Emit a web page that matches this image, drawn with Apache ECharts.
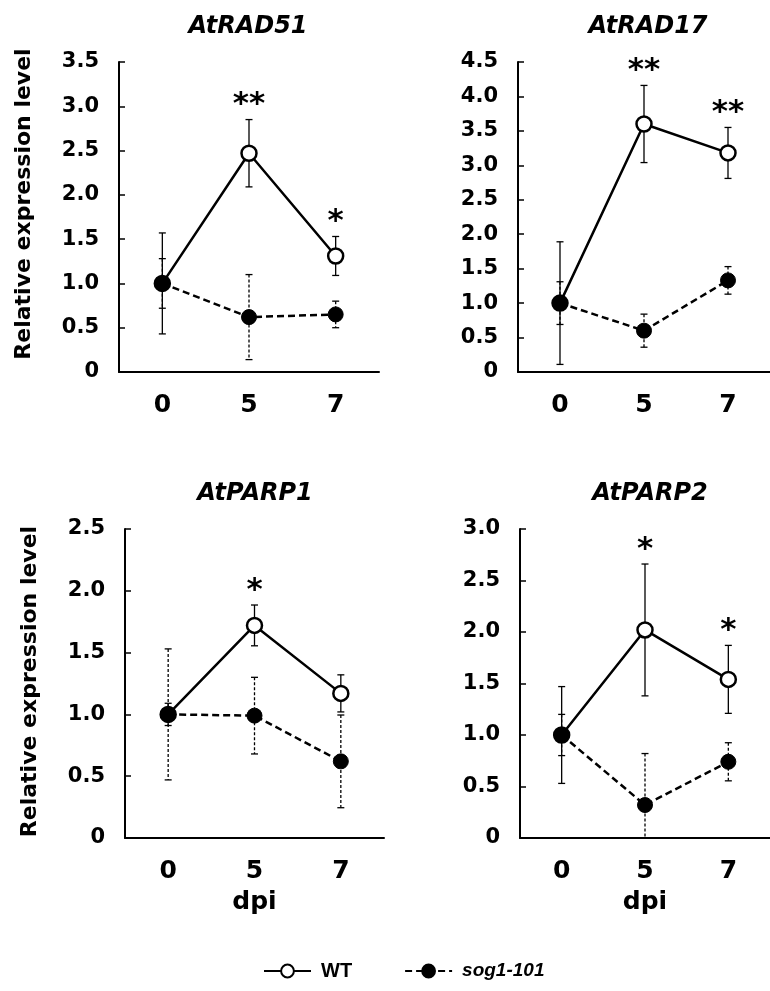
<!DOCTYPE html>
<html lang="en">
<head>
<meta charset="UTF-8">
<title>Relative expression</title>
<script src="https://cdn.jsdelivr.net/npm/echarts@6/dist/echarts.min.js"></script>
<style>
  html, body { margin: 0; padding: 0; background: #fff; }
  #container { width: 770px; height: 991px; }
</style>
</head>
<body>
<div id="container"></div>
<script type="text/javascript">
// days post inoculation
var categories = ['0', '5', '7'];
var genes = ['AtRAD51', 'AtRAD17', 'AtPARP1', 'AtPARP2'];
var yMax = [3.5, 4.5, 2.5, 3.0];

// means and error (+/-)
var wtMean = [[1, 2.47, 1.31], [1, 3.60, 3.18], [1, 1.72, 1.17], [1, 2.02, 1.54]];
var wtErr = [[0.57, 0.38, 0.22], [0.89, 0.56, 0.37], [0.09, 0.165, 0.15], [0.47, 0.64, 0.33]];
var sogMean = [[1, 0.62, 0.65], [1, 0.60, 1.33], [1, 0.99, 0.62], [1, 0.32, 0.74]];
var sogErr = [[0.28, 0.48, 0.15], [0.31, 0.24, 0.20], [0.53, 0.31, 0.375], [0.20, 0.50, 0.185]];
var stars = [['', '**', '*'], ['', '**', '**'], ['', '*', ''], ['', '*', '*']];

var FONT = 'DejaVu Sans';
var grids = [
  { left: 119, top: 62, width: 260, height: 310 },
  { left: 518, top: 62, width: 259, height: 310 },
  { left: 125, top: 529, width: 259, height: 309 },
  { left: 520, top: 529, width: 259, height: 309 }
];
var titleX = [243, 643, 250, 645];
var namePad = [26, 0, 4, 0];

function errRender(dashed) {
  return function (params, api) {
    var i = api.value(0), m = api.value(1), e = api.value(2);
    var lo = Math.max(0, m - e);
    var top = api.coord([i, m + e]);
    var bot = api.coord([i, lo]);
    var hw = 3.5;
    var style = { stroke: '#000', lineWidth: 1.3, lineDash: dashed ? [3, 2] : null };
    var cap = { stroke: '#000', lineWidth: 1.3 };
    var kids = [
      { type: 'line', shape: { x1: top[0], y1: top[1], x2: bot[0], y2: bot[1] }, style: style },
      { type: 'line', shape: { x1: top[0] - hw, y1: top[1], x2: top[0] + hw, y2: top[1] }, style: cap }
    ];
    if (lo > 0) {
      kids.push({ type: 'line', shape: { x1: bot[0] - hw, y1: bot[1], x2: bot[0] + hw, y2: bot[1] }, style: cap });
    }
    return { type: 'group', children: kids };
  };
}

var option = {
  animation: false,
  backgroundColor: '#fff',
  textStyle: { fontFamily: FONT },
  title: [],
  grid: grids,
  xAxis: [],
  yAxis: [],
  legend: {
    left: 263, top: 961, padding: 0,
    itemWidth: 47, itemHeight: 16, itemGap: 52,
    data: ['WT', 'sog1-101'],
    textStyle: { fontFamily: 'Liberation Sans', fontSize: 20, fontWeight: 'bold', color: '#000', padding: [0, 0, 0, 5],
      rich: { it: { fontFamily: 'Liberation Sans', fontSize: 19, fontWeight: 'bold', fontStyle: 'italic', color: '#000' } } },
    formatter: function (n) { return n === 'WT' ? n : '{it|' + n + '}'; }
  },
  series: []
};

for (var k = 0; k < 4; k++) {
  var g = grids[k];
  option.title.push({
    text: genes[k],
    left: titleX[k], top: g.top - 52, textAlign: 'center',
    textStyle: { fontFamily: FONT, fontSize: 24, fontWeight: 'bold', fontStyle: 'italic', color: '#000' }
  });
  option.xAxis.push({
    type: 'category', gridIndex: k, data: categories,
    name: k >= 2 ? 'dpi' : '', nameLocation: 'middle', nameGap: 52,
    nameTextStyle: { fontFamily: FONT, fontSize: 25, fontWeight: 'bold', color: '#000' },
    axisLine: { lineStyle: { color: '#000', width: 2 } },
    axisTick: { inside: true, alignWithLabel: true, length: 5, lineStyle: { color: '#000', width: 2 } },
    axisLabel: { margin: 21, fontFamily: FONT, fontSize: 25, fontWeight: 'bold', color: '#000' }
  });
  option.yAxis.push({
    type: 'value', gridIndex: k, min: 0, max: yMax[k], interval: 0.5,
    name: k % 2 === 0 ? 'Relative expression level' : '', nameLocation: 'middle', nameGap: 84,
    nameTextStyle: { fontFamily: FONT, fontSize: 22, fontWeight: 'bold', color: '#000', padding: [0, 0, 0, namePad[k]] },
    splitLine: { show: false },
    axisLine: { show: true, lineStyle: { color: '#000', width: 2 } },
    axisTick: { show: true, inside: true, length: 6, lineStyle: { color: '#000', width: 1.5 } },
    axisLabel: { margin: 20, fontFamily: FONT, fontSize: 21, fontWeight: 'bold', color: '#000',
      formatter: function (v) { return v === 0 ? '0' : v.toFixed(1); } }
  });

  var wtErrData = [], sogErrData = [], starData = [];
  for (var i = 0; i < categories.length; i++) {
    wtErrData.push([i, wtMean[k][i], wtErr[k][i]]);
    sogErrData.push([i, sogMean[k][i], sogErr[k][i]]);
    if (stars[k][i]) starData.push({ value: [i, wtMean[k][i] + wtErr[k][i]], star: stars[k][i] });
  }

  option.series.push(
    { type: 'custom', xAxisIndex: k, yAxisIndex: k, renderItem: errRender(false), data: wtErrData, z: 1, silent: true },
    { type: 'custom', xAxisIndex: k, yAxisIndex: k, renderItem: errRender(true), data: sogErrData, z: 1, silent: true },
    {
      name: 'WT', type: 'line', xAxisIndex: k, yAxisIndex: k, data: wtMean[k], z: 3,
      symbol: 'circle', symbolSize: 15, showAllSymbol: true,
      lineStyle: { color: '#000', width: 2.5 },
      itemStyle: { color: '#fff', borderColor: '#000', borderWidth: 2.5 }
    },
    {
      name: 'sog1-101', type: 'line', xAxisIndex: k, yAxisIndex: k, data: sogMean[k], z: 4,
      symbol: 'circle', symbolSize: 15, showAllSymbol: true,
      lineStyle: { color: '#000', width: 2.5, type: [7, 4] },
      itemStyle: { color: '#000', borderColor: '#000', borderWidth: 1 }
    },
    {
      type: 'scatter', xAxisIndex: k, yAxisIndex: k, symbolSize: 0, z: 5, silent: true,
      itemStyle: { color: '#000', opacity: 1 },
      data: starData,
      label: { show: true, position: 'top', distance: -1, fontFamily: FONT, fontSize: 31, fontWeight: 'bold',
        color: '#000', opacity: 1, textBorderWidth: 0,
        formatter: function (p) { return p.data.star; } }
    }
  );
}

var myChart = echarts.init(document.getElementById('container'));
myChart.setOption(option);
</script>
</body>
</html>
